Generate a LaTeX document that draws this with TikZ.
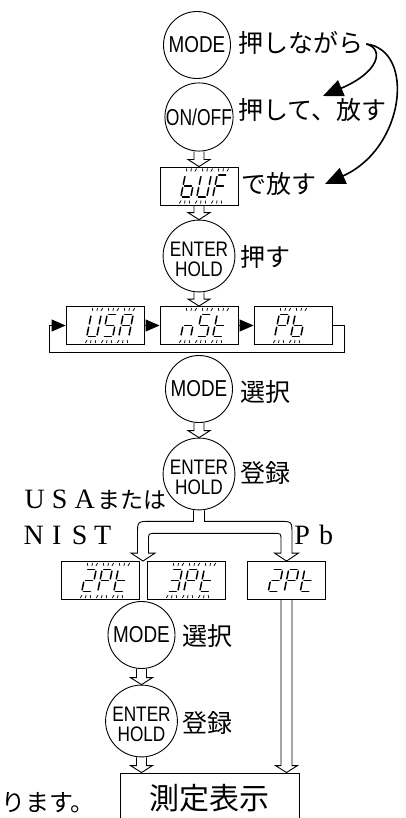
\documentclass[tikz,border=0pt]{standalone}
\usepackage{fontspec}
\usepackage{graphicx}
\usetikzlibrary{arrows.meta,calc}
\newfontfamily\jpfont{Noto Sans CJK JP}
\newfontfamily\keyfont{Liberation Sans}
\newfontfamily\romfont{Liberation Serif}
\newcommand\squeeze[2][0.82]{\scalebox{#1}[1]{#2}}
\newcommand\lcdsega[1]{\draw[segstroke] (#1+1.6,-11) -- (#1+8.4,-11);}
\newcommand\lcdsegb[1]{\draw[segstroke] (#1+10,-9.4) -- (#1+10,-1.6);}
\newcommand\lcdsegc[1]{\draw[segstroke] (#1+10,1.6) -- (#1+10,9.4);}
\newcommand\lcdsegd[1]{\draw[segstroke] (#1+1.6,11) -- (#1+8.4,11);}
\newcommand\lcdsege[1]{\draw[segstroke] (#1,1.6) -- (#1,9.4);}
\newcommand\lcdsegf[1]{\draw[segstroke] (#1,-9.4) -- (#1,-1.6);}
\newcommand\lcdsegg[1]{\draw[segstroke] (#1+1.6,0) -- (#1+8.4,0);}
\newcommand\lcddigit[2]{\foreach \sg in {#2}{\csname lcdseg\sg\endcsname{#1}}}
\newcommand\lcdrays[1]{\foreach \q in {#1}{\foreach \rx/\tl in {1/-1.2,5/0,9/1.2}{%
  \draw[raystroke] (\q+\rx,-14.5) -- ++(\tl,-3);
  \draw[raystroke] (\q+\rx,14.5) -- ++(\tl,3);}}}
\newcommand\hollowarrow[3][5]{\draw[hollow] ($(#2)+(-#1,0)$) -- ($(#3)+(-#1,-7)$) -- ($(#3)+(-11,-7)$) -- (#3) -- ($(#3)+(11,-7)$) -- ($(#3)+(#1,-7)$) -- ($(#2)+(#1,0)$);}

\begin{document}
\begin{tikzpicture}[x=1pt, y=-1pt,
  key/.style={circle, draw, line width=0.9pt, minimum size=67pt, inner sep=0pt, font=\keyfont\fontsize{23}{23}\selectfont},
  key2/.style={key, align=center, font=\keyfont\fontsize{21}{20}\selectfont},
  lcdbox/.style={draw, line width=0.9pt, minimum width=78pt, minimum height=38pt, inner sep=0pt},
  lcdframe/.style={shift={(#1.center)}, xslant=0.2},
  jtext/.style={anchor=west, inner sep=0pt, font=\jpfont\fontsize{25}{25}\selectfont},
  romtext/.style={anchor=west, inner sep=0pt, font=\romfont\fontsize{28}{28}\selectfont},
  segstroke/.style={line width=1.5pt, line cap=round},
  raystroke/.style={line width=0.7pt},
  hollow/.style={line width=0.9pt},
  flow/.style={line width=0.9pt, -{Triangle[length=14pt,width=12pt]}},
  swoop/.style={line width=1.6pt, -{Triangle[length=20pt,width=17pt]}}]
  \useasboundingbox (0,0) rectangle (405,818);
  \fill[white] (0,0) rectangle (405,818);

  \node[key] (m1) at (197,45) {\squeeze{MODE}};
  \node[jtext] (t1) at (238,43) {押しながら};
  \node[key] (on) at (199,117) {\squeeze[0.76]{ON/OFF}};
  \node[jtext] (t2) at (238,110) {押して、放す};
  \node[lcdbox] (buf) at (199,186) {};
  \node[jtext] (t3) at (241,184) {で放す};
  \node[key2] (e1) at (199,256) {\rule{0pt}{22pt}\squeeze{ENTER}\\\squeeze{HOLD}};
  \node[jtext] (t4) at (240,257) {押す};

  \node[lcdbox] (usa) at (105,325.5) {};
  \node[lcdbox] (nst) at (199,325.5) {};
  \node[lcdbox] (pb) at (293,325.5) {};

  \node[key] (m2) at (199,389) {\squeeze{MODE}};
  \node[jtext] (t5) at (240,392) {選択};
  \node[key2] (e2) at (199,474) {\rule{0pt}{22pt}\squeeze{ENTER}\\\squeeze{HOLD}};
  \node[jtext] (t6) at (240,473) {登録};

  \node[romtext] (lblA) at (22,500) {\makebox[25pt]{U}\makebox[25pt]{S}\makebox[25pt]{A}{\jpfont\fontsize{23}{23}\selectfont または}};
  \node[romtext] (lblN) at (22,535) {\makebox[23pt]{N}\makebox[23pt]{I}\makebox[23pt]{S}\makebox[23pt]{T}};
  \node[romtext] (lblP) at (290,535) {\makebox[24pt]{P}\makebox[24pt]{b}};

  \node[lcdbox] (ptA) at (100,580.5) {};
  \node[lcdbox] (ptB) at (186,580.5) {};
  \node[lcdbox] (ptC) at (286.5,580.5) {};

  \node[key] (m3) at (141.5,635) {\squeeze{MODE}};
  \node[jtext] (t7) at (182,636) {選択};
  \node[key2] (e3) at (141.5,721) {\rule{0pt}{22pt}\squeeze{ENTER}\\\squeeze{HOLD}};
  \node[jtext] (t8) at (182,723) {登録};

  \node[draw, line width=0.9pt, minimum width=179pt, minimum height=50pt, inner sep=0pt, font=\jpfont\fontsize{30}{30}\selectfont] (disp) at (209.5,798) {測定表示};
  \node[jtext, font=\jpfont\fontsize{24}{24}\selectfont] (tail) at (1,803) {ります。};

  \begin{scope}[lcdframe=buf]
    \lcddigit{-16}{c,d,e,f,g}\lcddigit{0}{b,c,d,e,f}\lcddigit{16}{a,e,f,g}
    \lcdrays{-16,0,16}
  \end{scope}
  \begin{scope}[lcdframe=usa]
    \lcddigit{-16}{b,c,d,e,f}\lcddigit{0}{a,c,d,f,g}\lcddigit{16}{a,b,c,e,f,g}
    \lcdrays{-16,0,16}
  \end{scope}
  \begin{scope}[lcdframe=nst]
    \lcddigit{-16}{c,e,g}\lcddigit{0}{a,c,d,f,g}\lcddigit{16}{d,e,f,g}
    \lcdrays{-16,0,16}
  \end{scope}
  \begin{scope}[lcdframe=pb]
    \lcddigit{-16}{a,b,e,f,g}\lcddigit{0}{c,d,e,f,g}
    \lcdrays{-16,0}
  \end{scope}
  \begin{scope}[lcdframe=ptA]
    \lcddigit{-16}{a,b,d,e,g}\lcddigit{0}{a,b,e,f,g}\lcddigit{16}{d,e,f,g}
    \lcdrays{-16,0,16}
  \end{scope}
  \begin{scope}[lcdframe=ptB]
    \lcddigit{-16}{a,b,c,d,g}\lcddigit{0}{a,b,e,f,g}\lcddigit{16}{d,e,f,g}
    \lcdrays{-16,0,16}
  \end{scope}
  \begin{scope}[lcdframe=ptC]
    \lcddigit{-16}{a,b,d,e,g}\lcddigit{0}{a,b,e,f,g}\lcddigit{16}{d,e,f,g}
  \end{scope}

  \hollowarrow{on.south}{buf.north}
  \hollowarrow{buf.south}{e1.north}
  \hollowarrow{e1.south}{nst.north}
  \hollowarrow{m2.south}{e2.north}
  \hollowarrow{m3.south}{e3.north}
  \hollowarrow{e3.south}{e3.south |- disp.north}
  \hollowarrow[5.5]{ptC.south}{ptC.south |- disp.north}

  \draw[flow] (usa) -- (nst);
  \draw[flow] (nst) -- (pb);
  \draw[flow] (pb.east) -- ++(12,0) -- ++(0,26.5) -| ($(usa.west)+(-16,0)$) -- (usa.west);

  \coordinate (brL) at ($(ptA.north east)!0.5!(ptB.north west)$);
  \coordinate (brR) at (ptC.north);
  \coordinate (jn) at ($(e2.south)+(0,11)$);
  \coordinate (oL) at ($(brL |- jn)+(-5.5,0)$);
  \coordinate (iL) at ($(brL |- jn)+(5.5,12)$);
  \coordinate (iR) at ($(brR |- jn)+(-5.5,12)$);
  \coordinate (oR) at ($(brR |- jn)+(5.5,0)$);
  \draw[hollow] ($(e2.south)+(-5.5,0)$) -- ($(jn)+(-5.5,0)$) -- ($(oL)+(13,0)$) .. controls (oL) .. ($(oL)+(0,13)$)
    -- ($(brL)+(-5.5,-8)$) -- ($(brL)+(-12,-8)$) -- (brL) -- ($(brL)+(12,-8)$) -- ($(brL)+(5.5,-8)$)
    -- ($(iL)+(0,7)$) .. controls (iL) .. ($(iL)+(7,0)$) -- ($(iR)+(-7,0)$) .. controls (iR) .. ($(iR)+(0,7)$)
    -- ($(brR)+(-5.5,-8)$) -- ($(brR)+(-12,-8)$) -- (brR) -- ($(brR)+(12,-8)$) -- ($(brR)+(5.5,-8)$)
    -- ($(oR)+(0,13)$) .. controls (oR) .. ($(oR)+(-13,0)$) -- ($(jn)+(5.5,0)$) -- ($(e2.south)+(5.5,0)$);

  \coordinate (hook) at ($(t1.east)+(3,1)$);
  \coordinate (tipA) at (323,96);
  \coordinate (tipB) at (325,184);
  \draw[swoop] (hook) .. controls ($(hook)+(18,5)$) and ($(hook)+(13,28)$) .. (tipA);
  \draw[swoop] (hook) .. controls ($(hook)+(49,6)$) and ($(hook)+(39,104)$) .. (tipB);
\end{tikzpicture}
\end{document}
